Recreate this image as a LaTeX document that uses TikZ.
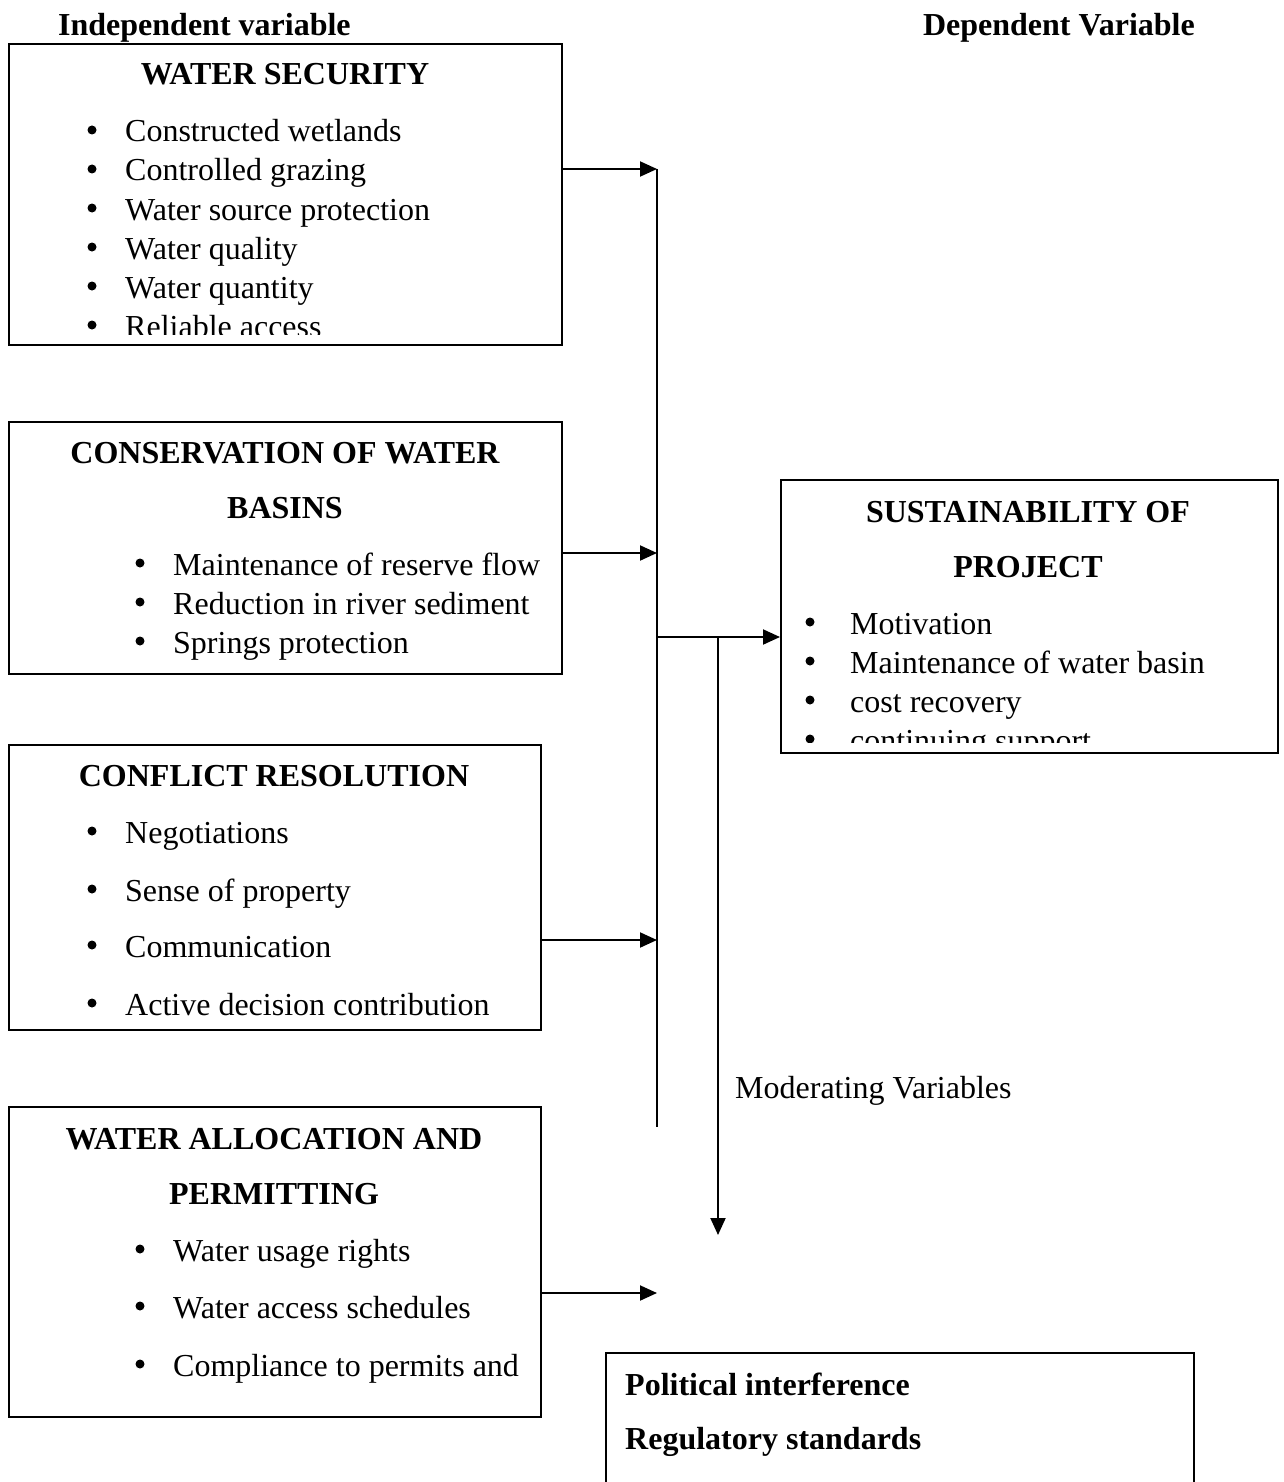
\documentclass[tikz,border=0pt]{standalone}
\usepackage{fontspec}
\setmainfont{Liberation Serif}
\usetikzlibrary{arrows.meta,positioning}
\tikzset{
	box/.style={draw, line width=1.6pt, inner sep=0pt, anchor=north west},
	head/.style={font=\fontsize{32}{38}\selectfont\bfseries, inner sep=0pt, anchor=base},
	item/.style={font=\fontsize{32}{38}\selectfont, inner sep=0pt, anchor=base west},
	dot/.style={circle, fill, inner sep=0pt, minimum size=9pt}
}
\tikzset{
	arr/.style={line width=2pt, -{Triangle[length=17pt,width=15pt]}},
	bar/.style={line width=1.5pt}
}
\begin{document}
\begin{tikzpicture}[x=1pt,y=-1pt]
\path[clip] (0,0) rectangle (1284,1482);
%% Titles
\node[head, anchor=base west] (indep) at (58,36) {Independent variable};
\node[head, anchor=base east] (dep) at (1195,36) {Dependent Variable};
%% Box water security
\node[box, minimum width=553, minimum height=301] (ws) at (8,43) {};
\node[head] (wsT) at (285,85) {WATER SECURITY};
\begin{scope}
\clip (ws.north west) rectangle ([yshift=11pt]ws.south east);
\foreach \t [count=\i] in {Constructed wetlands, Controlled grazing,
	Water source protection, Water quality, Water quantity, Reliable access}
{
	\node[dot] (wsd\i) at (92,130+39*\i-39) {};
	\node[item] (ws\i) at (125,142+39*\i-39) {\t};
}
\end{scope}
%% Box conservation of water basins
\node[box, minimum width=553, minimum height=252] (cw) at (8,421) {};
\node[head] (cwT1) at (285,463) {CONSERVATION OF WATER};
\node[head] (cwT2) at (285,518) {BASINS};
\foreach \t [count=\i] in {Maintenance of reserve flow,
	Reduction in river sediment, Springs protection}
{
	\node[dot] (cwd\i) at (140,563+39*\i-39) {};
	\node[item] (cw\i) at (173,575+39*\i-39) {\t};
}
%% Box conflict resolution
\node[box, minimum width=532, minimum height=285] (cr) at (8,744) {};
\node[head] (crT) at (274,786) {CONFLICT RESOLUTION};
\foreach \t/\y [count=\i] in {Negotiations/831, Sense of property/889,
	Communication/945, Active decision contribution/1003}
{
	\node[dot] (crd\i) at (92,\y) {};
	\node[item] (cr\i) at (125,\y+12) {\t};
}
%% Box water allocation and permitting
\node[box, minimum width=532, minimum height=310] (wa) at (8,1106) {};
\node[head] (waT1) at (274,1149) {WATER ALLOCATION AND};
\node[head] (waT2) at (274,1204) {PERMITTING};
\foreach \t/\y [count=\i] in {Water usage rights/1249, Water access schedules/1306,
	Compliance to permits and/1364}
{
	\node[dot] (wad\i) at (140,\y) {};
	\node[item] (wa\i) at (173,\y+12) {\t};
}
%% Box sustainability of project
\node[box, minimum width=497, minimum height=273] (sp) at (780,479) {};
\node[head] (spT1) at (1028,522) {SUSTAINABILITY OF};
\node[head] (spT2) at (1028,577) {PROJECT};
\begin{scope}
\clip (sp.north west) rectangle ([yshift=11pt]sp.south east);
\foreach \t [count=\i] in {Motivation, Maintenance of water basin,
	cost recovery, continuing support}
{
	\node[dot] (spd\i) at (810,622+39*\i-39) {};
	\node[item] (sp\i) at (850,634+39*\i-39) {\t};
}
\end{scope}
%% Box moderating variables (open at the bottom)
\node[box, minimum width=588, minimum height=160] (mv) at (605,1352) {};
\node[head, anchor=base west] (mv1) at (625,1395) {Political interference};
\node[head, anchor=base west] (mv2) at (625,1449) {Regulatory standards};
\node[item] (modlab) at (735,1098) {Moderating Variables};
%% Connectors
\coordinate (b1) at (657,169);
\coordinate (b2) at (657,553);
\coordinate (b3) at (657,940);
\coordinate (b4) at (657,1293);
\coordinate (bEnd) at (657,1127);
\coordinate (j) at (657,637);
\coordinate (m0) at (718,637);
\coordinate (m1) at (718,1235);
\draw[bar] (b1) -- (bEnd);
\draw[arr] (ws.east |- b1) -- (b1);
\draw[arr] (cw.east |- b2) -- (b2);
\draw[arr] (cr.east |- b3) -- (b3);
\draw[arr] (wa.east |- b4) -- (b4);
\draw[arr] (j) -- (sp.west |- j);
\draw[arr] (m0) -- (m1);
\end{tikzpicture}
\end{document}
